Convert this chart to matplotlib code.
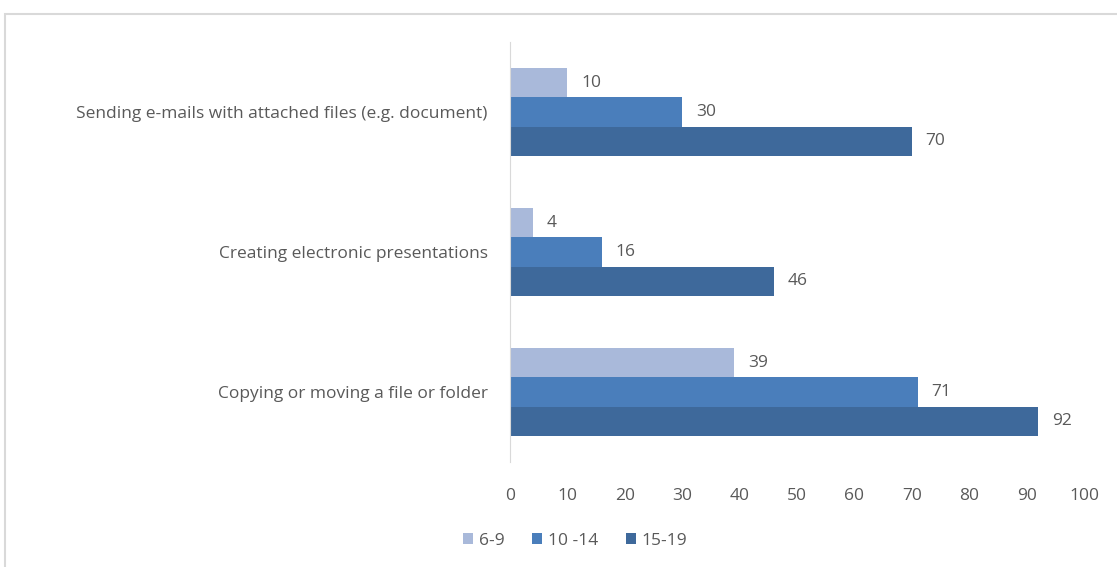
import numpy as np
import matplotlib
matplotlib.use("Agg")
import matplotlib.pyplot as plt
from matplotlib.patches import Rectangle

# data
categories = ["Sending e-mails with attached files (e.g. document)",
              "Creating electronic presentations",
              "Copying or moving a file or folder"]
series_names = ["6-9", "10 -14", "15-19"]
vals_6_9 = [10, 4, 39]
vals_10_14 = [30, 16, 71]
vals_15_19 = [70, 46, 92]
xticks = [0, 10, 20, 30, 40, 50, 60, 70, 80, 90, 100]

colors = ["#A9B9DA", "#4A7EBB", "#3E699B"]
txt = "#595959"
plt.rcParams['font.family'] = ['Open Sans', 'DejaVu Sans']

fig = plt.figure(figsize=(11.17, 5.67), dpi=100, facecolor="white")
# light frame around chart area
fig.patches.append(Rectangle((5/1117, -0.1), 1.2, 1 - 14/567 + 0.1, transform=fig.transFigure,
                             fill=False, edgecolor="#D9D9D9", linewidth=1.5))

ax = fig.add_axes([510/1117, 1 - 462/567, 574/1117, 420/567])
ypos = np.arange(len(categories))[::-1]
h = 0.21
allvals = [vals_6_9, vals_10_14, vals_15_19]
for i, (vals, name, c) in enumerate(zip(allvals, series_names, colors)):
    y = ypos + (1 - i) * h
    bars = ax.barh(y, vals, height=h, color=c, label=name)
    for yy, v in zip(y, vals):
        ax.annotate(str(v), (v, yy), xytext=(10, 0), textcoords="offset points",
                    va="center", ha="left", fontsize=12.5, color=txt)

ax.set_xlim(0, 100)
ax.set_ylim(-0.5, 2.5)
ax.set_xticks(xticks)
ax.set_yticks(ypos)
ax.set_yticklabels(categories)
ax.tick_params(axis="both", length=0, labelsize=12.5, labelcolor=txt)
ax.tick_params(axis="x", pad=19)
ax.tick_params(axis="y", pad=16)
for s in ["top", "right", "bottom"]:
    ax.spines[s].set_visible(False)
ax.spines["left"].set_color("#D9D9D9")

fig.legend(loc="center", bbox_to_anchor=(575/1117, 1 - 541/567), ncol=3, frameon=False,
           fontsize=12.5, labelcolor=txt, handlelength=0.6, handleheight=0.6,
           handletextpad=0.3, columnspacing=1.6)

fig.savefig("out.png", dpi=100, facecolor="white")
